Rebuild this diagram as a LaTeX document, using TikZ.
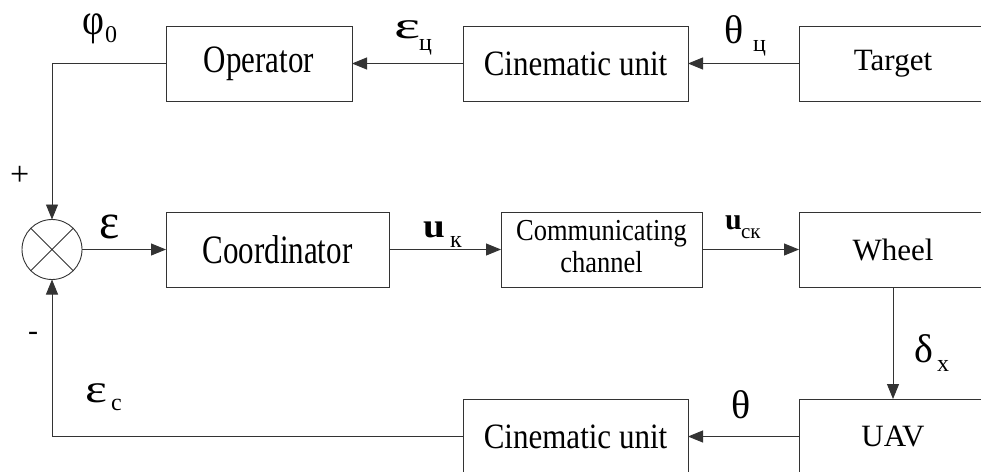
\documentclass[tikz,border=0pt]{standalone}
\usepackage{fontspec}
\setmainfont{Liberation Serif}
\usetikzlibrary{arrows.meta}
\newcommand{\ysc}[2]{\scalebox{1}[#1]{#2}}
\begin{document}
\begin{tikzpicture}[x=1pt,y=-1pt,
  blk/.style={draw=black!80, line width=0.9pt, rectangle, minimum height=75pt, inner sep=0pt, outer sep=0pt, align=center, font=\fontsize{31}{36}\selectfont},
  conn/.style={draw=black!80, line width=0.9pt, -{Triangle[length=15pt,width=12pt]}},
  lab/.style={anchor=base west, inner sep=0pt, outer sep=0pt},
  big/.style={lab, font=\fontsize{40}{40}\selectfont},
  sub/.style={lab, font=\fontsize{24}{24}\selectfont}]
\useasboundingbox (0,0) rectangle (981,471);
\clip (0,0) rectangle (981,471);
% blocks
\node[blk, minimum width=186pt] (op) at (259,63.5) {\ysc{1.25}{Operator}};
\node[blk, minimum width=225pt] (cinetop) at (575.5,63.5) {\ysc{1.15}{Cinematic unit}};
\node[blk, minimum width=188pt] (target) at (893,63.5) {Target};
\node[blk, minimum width=223pt] (coord) at (277.5,249.5) {\ysc{1.3}{Coordinator}};
\node[blk, minimum width=201pt, font=\fontsize{26.5}{32}\selectfont] (comm) at (601.5,249.5) {\ysc{1.15}{\begin{tabular}{@{}c@{}}Communicating\\[-4pt]channel\end{tabular}}};
\node[blk, minimum width=188pt] (wheel) at (893,249.5) {Wheel};
\node[blk, minimum width=188pt] (uav) at (893,436.5) {UAV};
\node[blk, minimum width=225pt] (cinebot) at (575.5,436.5) {\ysc{1.15}{Cinematic unit}};
% summing junction
\node[circle, draw=black!80, line width=0.9pt, minimum size=60pt, inner sep=0pt, outer sep=0pt] (sum) at (52,249.5) {};
\draw[black!80, line width=0.9pt] (sum.north west) -- (sum.south east) (sum.north east) -- (sum.south west);
% connectors
\draw[conn] (target.west) -- (cinetop.east);
\draw[conn] (cinetop.west) -- (op.east);
\draw[conn] (op.west) -| (sum.north);
\draw[conn] (sum.east) -- (coord.west);
\draw[conn] (coord.east) -- (comm.west);
\draw[conn] (comm.east) -- (wheel.west);
\draw[conn] (wheel.south) -- (uav.north);
\draw[conn] (uav.west) -- (cinebot.east);
\draw[conn] (cinebot.west) -| (sum.south);
% labels
\node[big] (phi) at (82,34) {\scalebox{0.95}[1.1]{φ}};
\node[sub] (phis) at (105,42) {0};
\node[big] (epsc) at (394,38) {\scalebox{1.55}[0.95]{ε}};
\node[sub] (epscs) at (419,50) {ц};
\node[big] (thc) at (724,43) {θ};
\node[sub] (thcs) at (753,51) {ц};
\node[big] (eps) at (99,238) {\scalebox{1.2}[1.25]{ε}};
\node[big, font=\bfseries\fontsize{34}{34}\selectfont] (uk) at (423,237) {\scalebox{1.15}[1]{u}};
\node[sub] (uks) at (450,247) {к};
\node[big, font=\bfseries\fontsize{30}{30}\selectfont] (usk) at (725,229) {u};
\node[sub, font=\fontsize{21}{21}\selectfont] (usks) at (741,238) {ск};
\node[big] (dx) at (914,362) {δ};
\node[sub] (dxs) at (937,371) {x};
\node[big] (th) at (731,418) {θ};
\node[big] (epss) at (85,402) {\scalebox{1.3}[1]{ε}};
\node[sub] (epsss) at (111,410) {c};
\node[lab, font=\fontsize{34}{34}\selectfont] (plus) at (10,185) {+};
\node[lab, font=\fontsize{30}{30}\selectfont] (minus) at (28,340) {-};
\end{tikzpicture}
\end{document}
